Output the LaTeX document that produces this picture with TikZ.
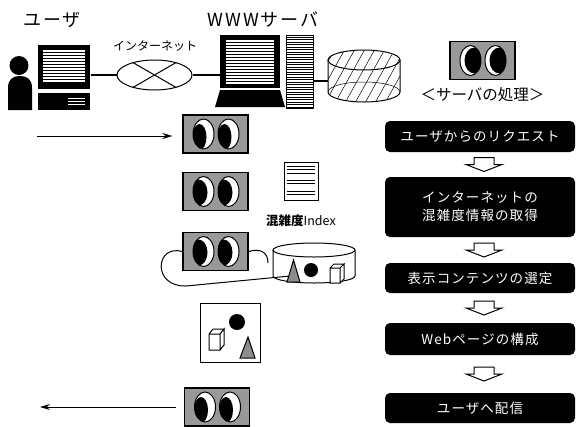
\documentclass[tikz,border=0pt]{standalone}
\usepackage{fontspec}
\setmainfont{Noto Sans CJK JP}
\usetikzlibrary{arrows.meta,positioning,calc,shapes.geometric}

\begin{document}
\begin{tikzpicture}[x=1pt,y=-1pt,>={Stealth[length=10pt,width=6pt]},line width=1pt]
\tikzstyle{proc}=[fill=black,rounded corners=5pt,minimum width=190pt,align=center,text=white,font=\fontsize{13.5}{18}\selectfont\addfontfeature{LetterSpace=8}]
\tikzstyle{eyebox}=[draw,line width=1.2pt,fill=black!40,minimum width=65pt,minimum height=38pt,inner sep=0pt]
\tikzstyle{stripe}=[white,line width=1.3pt]
\tikzstyle{hd}=[font=\fontsize{18}{20}\selectfont\addfontfeature{LetterSpace=10}]
\tikzstyle{wire}=[line width=1.6pt]
\useasboundingbox (0,0) rectangle (580,426);

% titles
\node[hd] (tuser) at (52,20) {ユーザ};
\node[hd] (tsrv) at (263,20) {WWWサーバ};

% user and PC
\fill (19,65.5) circle[radius=9.5pt];
\fill (8,110) -- (8,88) .. controls (8,79) and (13,76) .. (20,76) .. controls (27,76) and (32,79) .. (32,88) -- (32,110) -- cycle;
\node[fill=black,minimum width=52pt,minimum height=44pt,inner sep=0] (upc) at (64,67) {};
\foreach \k in {0,...,10} \draw[stripe] (43,51+3*\k) -- (85,51+3*\k);
\node[fill=black,minimum width=52pt,minimum height=17pt,inner sep=0] (ubase) at (64,101.5) {};
\foreach \k in {0,1,2} \draw[stripe,line width=0.7pt] (68,98+3*\k) -- (85,98+3*\k);

% internet
\node[draw,ellipse,minimum width=75pt,minimum height=30pt,inner sep=0] (net) at (154.5,75) {};
\draw (net.150) -- (net.-30) (net.30) -- (net.-150);
\node[font=\fontsize{12}{14}\selectfont] (tnet) at (155,46) {インターネット};
\draw[wire] (upc.east|-net) -- (net);

% WWW server
\node[fill=black,minimum width=60pt,minimum height=53pt,inner sep=0] (scr) at (250,61.5) {};
\foreach \k in {0,...,14} \draw[stripe] (226,41+3*\k) -- (274,41+3*\k);
\fill (215,107) -- (220,90) -- (280,90) -- (285,107) -- cycle;
\node[draw,minimum width=27pt,minimum height=73pt,inner sep=0] (srv) at (299.5,71.5) {};
\foreach \k in {0,...,28} \draw[line width=0.9pt] (286,37+2.5*\k) -- (313,37+2.5*\k);
\draw[wire] (net) -- (scr.west|-net);

% database
\node[minimum width=72pt,minimum height=32pt,inner sep=0] (db1) at (364,81) {};
\begin{scope}
\clip (328,60) -- (328,92) arc[start angle=180,end angle=360,x radius=36pt,y radius=10pt] -- (400,60) arc[start angle=0,end angle=180,x radius=36pt,y radius=10pt] -- cycle;
\foreach \k in {0,...,10} \draw[line width=0.5pt] (300+10*\k,112) -- (340+10*\k,40);
\end{scope}
\draw (328,60) -- (328,92) arc[start angle=180,end angle=360,x radius=36pt,y radius=10pt] -- (400,60);
\draw (364,60) ellipse[x radius=36pt,y radius=10pt];
\draw[line width=0.5pt] (328,92) arc[start angle=180,end angle=0,x radius=36pt,y radius=10pt];
\draw[wire] (srv.east|-db1) -- (db1.west);

% eye icons
\foreach \n/\x/\y/\px/\py/\pr in {etop/482.5/60.5/4/0/10pt, e1/215.5/134/-4/3/7pt, e2/215.5/191.5/-5/1/9pt, e3/215.5/251.5/-5/1/9pt, e5/217/407/-4/3/7pt}
{
  \node[eyebox] (\n) at (\x,\y) {};
  \foreach \s in {-12,13} {
    \draw[fill=white] ($(\n)+(\s,0)$) ellipse[x radius=10.5pt,y radius=15pt];
    \begin{scope}
      \clip ($(\n)+(\s,0)$) ellipse[x radius=10.5pt,y radius=15pt];
      \fill ($(\n)+(\s+\px,\py)$) ellipse[x radius=\pr,y radius=13pt];
    \end{scope}
  }
}
\node[font=\fontsize{15.5}{18}\selectfont,below=4pt of etop] (tproc) {＜サーバの処理＞};

% request in, page out
\coordinate (in) at (37,136);
\draw[->] (in) -- (in-|e1.west) [shorten >=10pt];
\coordinate (out) at (40,407);
\draw[->,shorten <=8pt] (e5.west) -- (out);

% congestion index
\node[draw,minimum width=34pt,minimum height=38pt,inner sep=0] (doc) at (301,181) {};
\foreach \y in {166,169.5,173,180,183.5,191,194.5} \draw (287,\y) -- (315,\y);
\node[below=10pt of doc,font=\fontsize{12.5}{14}\selectfont] (tidx) {\textbf{混雑度}Index};

% content database
\draw (273,250) -- (273,276) arc[start angle=180,end angle=360,x radius=41pt,y radius=7pt] -- (355,250);
\draw (314,250) ellipse[x radius=41pt,y radius=7pt];
\coordinate (t2) at (290,276);
\coordinate (hk) at (268,263);
\draw (e3.west) .. controls (155,244) and (152,287) .. (186,286) -- (t2);
\draw (e3.east) .. controls (260,248) and (268,252) .. (hk);
\draw[fill=black!45] (287,282) -- (293.5,260) -- (300,282) -- cycle;
\fill (311,270) circle[radius=7pt];
\draw[fill=white] (330,268) rectangle (340,283) (330,268) -- (334,264) -- (344,264) -- (340,268) (340,268) -- (344,264) -- (344,279) -- (340,283);

% selected contents
\node[draw,minimum width=60pt,minimum height=59pt,inner sep=0] (cbox) at (230,332.5) {};
\fill (237,322) circle[radius=8pt];
\draw[fill=white] (209,334) rectangle (220,350) (209,334) -- (213,329) -- (224,329) -- (220,334) (220,334) -- (224,329) -- (224,345) -- (220,350);
\draw[fill=black!45] (240,358) -- (248,337) -- (255,358) -- cycle;

% server side steps
\node[proc,minimum height=31pt] (b1) at (480,136.5) {ユーザからのリクエスト};
\node[proc,minimum height=60pt] (b2) at (480,207) {インターネットの\\混雑度情報の取得};
\node[proc,minimum height=30pt] (b3) at (480,278) {表示コンテンツの選定};
\node[proc,minimum height=32pt] (b4) at (480,339) {Webページの構成};
\node[proc,minimum height=30pt] (b5) at (480,408) {ユーザへ配信};
\foreach \a/\b in {b1/b2,b2/b3,b3/b4,b4/b5}
  \draw[fill=white] ($(\a.south)!0.5!(\b.north)+(4,0)$) +(-10,-7) -- +(10,-7) -- +(10,0) -- +(18,0) -- +(0,7) -- +(-18,0) -- +(-10,0) -- cycle;
\end{tikzpicture}
\end{document}
